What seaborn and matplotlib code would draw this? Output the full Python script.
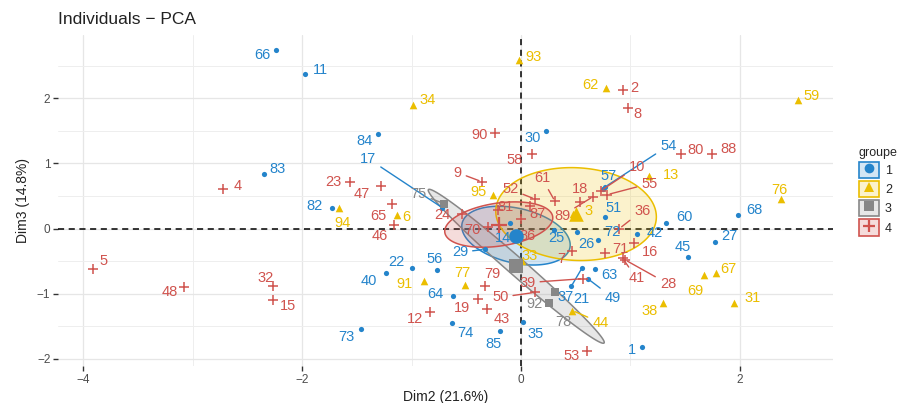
import numpy as np
import pandas as pd
import matplotlib
matplotlib.use("Agg")
import matplotlib.pyplot as plt
import seaborn as sns
from matplotlib.lines import Line2D
from matplotlib.patches import Rectangle
from matplotlib.colors import to_rgba

# individuals of each groupe: label, Dim2, Dim3
g1_ids = ["66", "11", "84", "83", "82", "17", "30", "54", "57", "51", "72", "26", "25",
          "42", "60", "68", "27", "45", "37", "63", "21", "49", "35", "85", "74", "64",
          "73", "40", "22", "56", "29", "14", "1"]
g1_dim2 = [-2.24, -1.97, -1.31, -2.35, -1.73, -0.72, 0.23, 0.77, 0.75, 0.77, 0.70, 0.51, 0.30,
           1.06, 1.33, 1.98, 1.77, 1.53, 0.56, 0.68, 0.46, 0.61, 0.02, -0.19, -0.63, -0.62,
           -1.46, -1.23, -1.00, -0.77, -0.33, -0.10, 1.11]
g1_dim3 = [2.74, 2.37, 1.45, 0.83, 0.32, 0.32, 1.49, 0.64, 0.60, 0.17, -0.17, -0.06, -0.02,
           -0.08, 0.08, 0.21, -0.20, -0.43, -0.60, -0.62, -0.89, -0.77, -1.43, -1.57, -1.45, -1.03,
           -1.54, -0.68, -0.60, -0.63, -0.32, 0.08, -1.82]

g2_ids = ["93", "34", "62", "59", "13", "76", "95", "94", "6", "91", "77", "3", "33",
          "44", "38", "69", "67", "31"]
g2_dim2 = [-0.02, -0.99, 0.78, 2.53, 1.17, 2.38, -0.26, -1.66, -1.13, -0.89, -0.51, 0.48, 0.01,
           0.47, 1.30, 1.67, 1.78, 1.95]
g2_dim3 = [2.58, 1.89, 2.15, 1.97, 0.80, 0.46, 0.51, 0.32, 0.20, -0.80, -0.86, 0.22, -0.50,
           -1.26, -1.15, -0.71, -0.68, -1.15]

g3_ids = ["75", "78", "92"]
g3_dim2 = [-0.70, 0.26, 0.31]
g3_dim3 = [0.38, -1.15, -0.97]

g4_ids = ["4", "5", "48", "32", "15", "23", "47", "65", "46", "24", "70", "81", "86",
          "9", "90", "58", "52", "87", "2", "8", "80", "88", "10", "55", "61", "18", "89",
          "36", "71", "16", "41", "28", "7", "39", "50", "79", "19", "43", "12", "53"]
g4_dim2 = [-2.72, -3.91, -3.08, -2.27, -2.27, -1.56, -1.28, -1.18, -1.16, -0.54, -0.30, -0.21, 0.00,
           -0.36, -0.24, 0.10, 0.13, 0.08, 0.93, 0.98, 1.46, 1.75, 0.73, 0.79, 0.31, 0.54, 0.66,
           0.90, 0.77, 1.03, 0.93, 0.95, 0.47, 0.57, 0.13, -0.33, -0.39, -0.31, -0.83, 0.60]
g4_dim3 = [0.61, -0.62, -0.90, -0.88, -1.09, 0.72, 0.66, 0.38, 0.05, 0.23, 0.02, 0.28, 0.15,
           0.72, 1.46, 1.14, 0.45, 0.35, 2.12, 1.85, 1.14, 1.15, 0.58, 0.52, 0.42, 0.40, 0.49,
           0.00, -0.37, -0.23, -0.46, -0.48, -0.34, -0.77, -0.98, -0.88, -1.08, -1.23, -1.28, -1.88]

groups = ["1", "2", "3", "4"]
colors = ["#2484CB", "#EBBE00", "#878787", "#D0534E"]
markers = ["o", "^", "s", "+"]

# where each label sits relative to its point (pixels, y pointing down), like ggrepel did
label_offset = {
    "66": (-14, 5), "11": (15, -4), "84": (-13, 7), "83": (14, -5), "82": (-17, -2),
    "17": (-74, -49), "30": (-13, 7), "54": (63, -41), "57": (6, -13), "51": (8, -9),
    "72": (15, -8), "26": (10, 12), "25": (3, 8), "42": (18, -1), "60": (18, -6),
    "68": (17, -5), "27": (15, -6), "45": (-6, -10), "37": (-17, 29), "63": (14, 6),
    "21": (10, 13), "49": (25, 19), "35": (12, 12), "85": (-7, 13), "74": (13, 10),
    "64": (-18, -2), "73": (-15, 8), "40": (-18, 8), "22": (-15, -6), "56": (-2, -11),
    "29": (-25, 3), "14": (-7, 15), "1": (-10, 3),
    "93": (15, -3), "34": (15, -5), "62": (-16, -3), "59": (14, -4), "13": (22, -1),
    "76": (-2, -9), "95": (-14, -3), "94": (3, 15), "6": (9, 2), "91": (-19, 3),
    "77": (-3, -12), "3": (15, -3), "33": (8, -5), "44": (28, 12), "38": (-14, 8),
    "69": (-8, 16), "67": (13, -4), "31": (18, -5),
    "75": (-26, -10), "78": (14, 19), "92": (-20, 12),
    "4": (14, -3), "5": (10, -8), "48": (-14, 5), "32": (-7, -8), "15": (15, 6),
    "23": (-17, 0), "47": (-19, 8), "65": (-14, 12), "46": (-14, 11), "24": (-20, 1),
    "70": (-16, 3), "81": (7, -3), "86": (7, 17), "9": (-24, -9), "90": (-15, 2),
    "58": (-17, 6), "52": (-25, -10), "87": (8, 8), "2": (12, -2), "8": (9, 6),
    "80": (15, -4), "88": (16, -5), "10": (36, -24), "55": (42, -11), "61": (-13, -23),
    "18": (0, -13), "89": (-31, 19), "36": (23, -18), "71": (15, -4), "16": (16, 9),
    "41": (14, 20), "28": (43, 24), "7": (-11, 8), "39": (-56, 4), "50": (-35, 5),
    "79": (7, -12), "19": (-16, 9), "43": (15, 10), "12": (-15, 7), "53": (-15, 5),
}

frames = []
for g, ids, d2, d3 in zip(groups, [g1_ids, g2_ids, g3_ids, g4_ids],
                          [g1_dim2, g2_dim2, g3_dim2, g4_dim2],
                          [g1_dim3, g2_dim3, g3_dim3, g4_dim3]):
    frames.append(pd.DataFrame({"ind": ids, "Dim2": d2, "Dim3": d3, "groupe": g}))
df = pd.concat(frames, ignore_index=True)
means = df.groupby("groupe")[["Dim2", "Dim3"]].mean().reset_index()


def conf_ellipse(x, y, level_chi2=5.991, n_pts=200):
    # confidence ellipse of the group barycentre
    cov = np.cov(x, y) / len(x)
    vals, vecs = np.linalg.eigh(cov)
    t = np.linspace(0, 2 * np.pi, n_pts)
    circ = np.vstack([np.cos(t), np.sin(t)])
    pts = vecs @ (np.sqrt(np.clip(vals, 0, None))[:, None] * circ) * np.sqrt(level_chi2)
    return x.mean() + pts[0], y.mean() + pts[1]


sns.set_theme(style="white")
plt.rcParams["font.family"] = ["Liberation Sans", "DejaVu Sans"]

fig = plt.figure(figsize=(9.07, 4.03), dpi=100)
ax = fig.add_axes([58 / 907, 1 - 366 / 403, (833 - 58) / 907, (366 - 35) / 403])

# ellipses
for g, c in zip(groups, colors):
    sub = df[df.groupe == g]
    ex, ey = conf_ellipse(sub.Dim2.values, sub.Dim3.values)
    ax.fill(ex, ey, facecolor=to_rgba(c, 0.2), edgecolor=c, lw=1.1, zorder=2)

# points
for g, c, m in zip(groups, colors, markers):
    sub = df[df.groupe == g]
    if m == "+":
        sns.scatterplot(data=sub, x="Dim2", y="Dim3", marker=m, color=c, s=50,
                        linewidth=1.1, ax=ax, legend=False, zorder=3)
    else:
        s = 14 if m == "o" else 30
        sns.scatterplot(data=sub, x="Dim2", y="Dim3", marker=m, color=c, s=s,
                        linewidth=0, ax=ax, legend=False, zorder=3)

# labels
for _, row in df.iterrows():
    c = colors[groups.index(row.groupe)]
    dx, dy = label_offset.get(row.ind, (12, -4))
    arrow = None
    if np.hypot(dx, dy) > 24:
        arrow = dict(arrowstyle="-", color=c, lw=1.0, shrinkA=1, shrinkB=2)
    ax.annotate(row.ind, xy=(row.Dim2, row.Dim3), xytext=(dx, -dy),
                textcoords="offset pixels", ha="center", va="center",
                fontsize=10.5, color=c, arrowprops=arrow, zorder=4)

# group means
for g, c, m in zip(groups, colors, markers):
    sub = means[means.groupe == g]
    if m == "+":
        sns.scatterplot(data=sub, x="Dim2", y="Dim3", marker=m, color=c, s=130,
                        linewidth=1.6, ax=ax, legend=False, zorder=5)
    else:
        sns.scatterplot(data=sub, x="Dim2", y="Dim3", marker=m, color=c, s=110,
                        linewidth=0, ax=ax, legend=False, zorder=5)

ax.axhline(0, color="black", ls=(0, (4, 3)), lw=1.1, zorder=1.5)
ax.axvline(0, color="black", ls=(0, (4, 3)), lw=1.1, zorder=1.5)

# limits with 5% expansion
xr = df.Dim2.max() - df.Dim2.min()
yr = df.Dim3.max() - df.Dim3.min()
ax.set_xlim(df.Dim2.min() - 0.05 * xr, df.Dim2.max() + 0.05 * xr)
ax.set_ylim(df.Dim3.min() - 0.05 * yr, df.Dim3.max() + 0.05 * yr)

ax.set_xticks([-4, -2, 0, 2])
ax.set_yticks([-2, -1, 0, 1, 2])
ax.set_xticks([-3, -1, 1], minor=True)
ax.set_yticks([-1.5, -0.5, 0.5, 1.5, 2.5], minor=True)
ax.grid(which="major", color="#E6E6E6", lw=0.9, zorder=0)
ax.grid(which="minor", color="#EEEEEE", lw=0.7, zorder=0)
ax.set_axisbelow(True)
for sp in ax.spines.values():
    sp.set_visible(False)
ax.tick_params(which="major", axis="both", length=3.5, width=1, color="#333333",
               labelsize=8.5, labelcolor="#4D4D4D", pad=2, left=True, bottom=True)
ax.tick_params(which="minor", length=0)

ax.set_xlabel("Dim2 (21.6%)", fontsize=10, color="#222222", labelpad=3)
ax.set_ylabel("Dim3 (14.8%)", fontsize=10, color="#222222", labelpad=5)
fig.text(58 / 907, 1 - 20 / 403, "Individuals − PCA", fontsize=12.5, color="#222222",
         ha="left", va="center")

handles = []
for c, m in zip(colors, markers):
    box = Rectangle((0, 0), 1, 1, facecolor=to_rgba(c, 0.2), edgecolor=c, lw=1.2)
    if m == "+":
        pt = Line2D([], [], marker=m, color=c, ls="", markersize=9, mew=1.6)
    else:
        pt = Line2D([], [], marker=m, color=c, ls="", markersize=7, mew=0)
    handles.append((box, pt))
fig.legend(handles, groups, title="groupe", loc="upper left",
           bbox_to_anchor=(850 / 907, 1 - 138 / 403), frameon=False,
           handlelength=1.6, handleheight=1.6, handletextpad=0.5, labelspacing=0.25,
           fontsize=9, title_fontsize=9, alignment="left", borderpad=0.2)

fig.savefig("out.png", dpi=100)
